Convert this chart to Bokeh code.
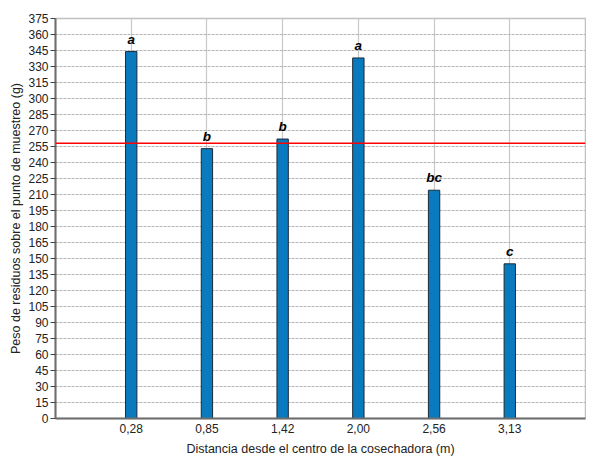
from bokeh.plotting import figure
from bokeh.models import FactorRange, Range1d, FixedTicker, Span, ColumnDataSource
from bokeh.core.properties import value
from bokeh.embed import file_html
from bokeh.resources import INLINE

distances = ["0,28", "0,85", "1,42", "2,00", "2,56", "3,13"]
weights = [344, 253, 262, 338, 214, 145]
letters = ["a", "b", "b", "a", "bc", "c"]
reference_line = 258
y_ticks = list(range(0, 376, 15))

src = ColumnDataSource(dict(x=distances, top=weights, lab=letters))

p = figure(
    width=586, height=461,
    x_range=FactorRange(factors=distances, range_padding=0.5, range_padding_units="absolute"),
    y_range=Range1d(0, 375),
    output_backend="svg", toolbar_location=None,
    min_border_left=55, min_border_right=1, min_border_top=18, min_border_bottom=43,
)
p.background_fill_color = "white"
p.border_fill_color = "white"
p.outline_line_color = "#c0c0c0"
p.outline_line_width = 1.5

p.vbar(x="x", top="top", width=0.15, bottom=0, source=src,
       fill_color="#0a7abf", line_color="#1c2a38", line_width=1)

p.text(x="x", y="top", text="lab", source=src, y_offset=-5,
       text_align="center", text_baseline="bottom",
       text_font=value("Liberation Sans"), text_font_style="bold italic",
       text_font_size="13.5px", text_color="black")

p.add_layout(Span(location=reference_line, dimension="width", line_color="#ff0000", line_width=1.5))

p.yaxis.ticker = FixedTicker(ticks=y_ticks)
p.ygrid.ticker = FixedTicker(ticks=y_ticks)
p.ygrid.grid_line_color = "#b4b4b4"
p.ygrid.grid_line_dash = "3 1"
p.xgrid.grid_line_color = "#c8c8c8"
p.xgrid.grid_line_width = 1.2

for ax in (p.xaxis, p.yaxis):
    ax.axis_line_color = "#6e6e6e"
    ax.axis_line_width = 2
    ax.major_label_text_font = "Liberation Sans"
    ax.major_label_text_font_size = "12px"
    ax.major_label_text_color = "#222222"
    ax.axis_label_text_font = "Liberation Sans"
    ax.axis_label_text_font_size = "12.5px"
    ax.axis_label_text_font_style = "normal"
    ax.axis_label_text_color = "#222222"
    ax.minor_tick_line_color = None

p.yaxis.major_tick_out = 5
p.yaxis.major_tick_in = 0
p.yaxis.major_tick_line_color = "#444444"
p.yaxis.major_label_standoff = 2
p.yaxis.axis_label = "Peso de residuos sobre el punto de muestreo (g)"
p.yaxis.axis_label_standoff = 2

p.xaxis.major_tick_out = 0
p.xaxis.major_tick_in = 0
p.xaxis.major_label_standoff = 5
p.xaxis.axis_label = "Distancia desde el centro de la cosechadora (m)"
p.xaxis.axis_label_standoff = 6

open("out.html", "w").write(file_html(p, INLINE))
